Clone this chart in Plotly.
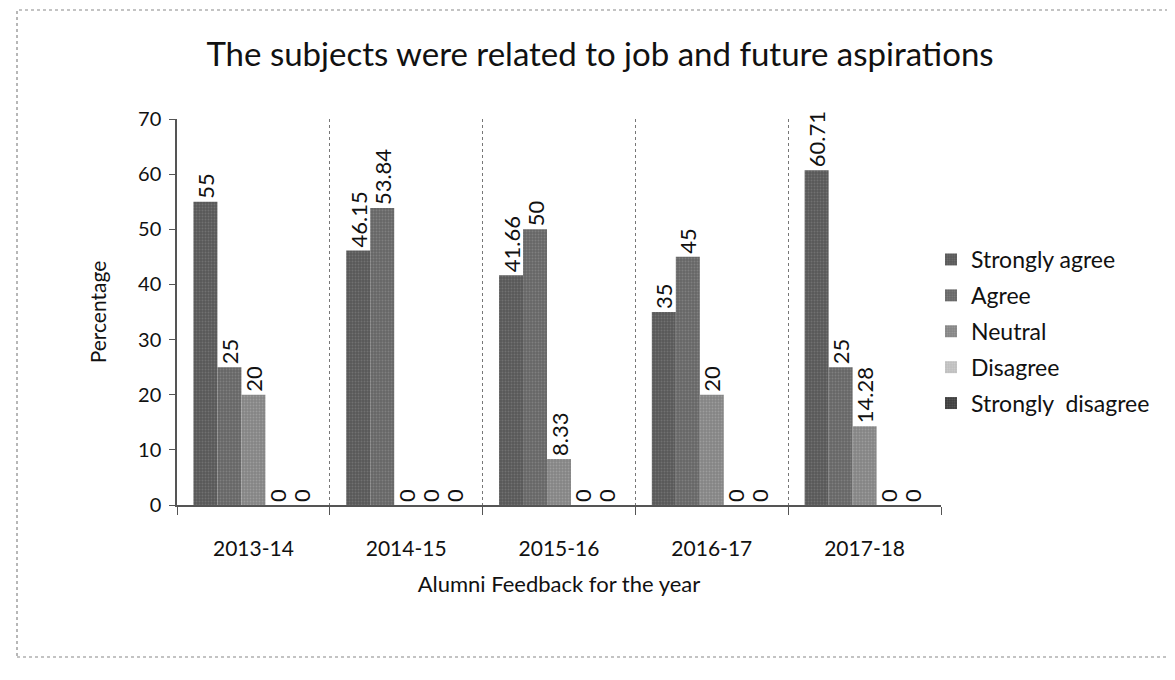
import plotly.graph_objects as go

years = ["2013-14", "2014-15", "2015-16", "2016-17", "2017-18"]
strongly_agree = [55, 46.15, 41.66, 35, 60.71]
agree = [25, 53.84, 50, 45, 25]
neutral = [20, 0, 8.33, 20, 14.28]
disagree = [0, 0, 0, 0, 0]
strongly_disagree = [0, 0, 0, 0, 0]

series = [
    ("Strongly agree", strongly_agree, "#575757", "#8c8c8c"),
    ("Agree", agree, "#656565", "#9a9a9a"),
    ("Neutral", neutral, "#838383", "#b5b5b5"),
    ("Disagree", disagree, "#bdbdbd", "#e0e0e0"),
    ("Strongly  disagree", strongly_disagree, "#3c3c3c", "#777777"),
]

FONT = "Lato, 'Open Sans', sans-serif"
OFF = 8  # browser body margin
W, H = 1175 - OFF, 680 - OFF

fig = go.Figure()
for i, (name, vals, bg, fg) in enumerate(series):
    fig.add_trace(go.Bar(
        x=years, y=vals, name=name, legendgroup=f"g{i}",
        marker=dict(color=bg, line=dict(width=0),
                    pattern=dict(shape=".", bgcolor=bg, fgcolor=fg, size=3, solidity=0.35)),
        texttemplate="%{y}", textposition="outside", textangle=-90,
        textfont=dict(size=22, color="#111111", family=FONT),
        constraintext="none", cliponaxis=False,
    ))

# plot area in reference (page) pixel coordinates
L, R, T, B = 177, 941, 119, 505
def px_x(p): return (p - L) / (R - L)
def px_y(p): return (B - p) / (B - T)

fig.update_layout(
    width=W, height=H,
    margin=dict(l=L - OFF, r=1175 - R, t=T - OFF, b=680 - B, autoexpand=False),
    paper_bgcolor="white", plot_bgcolor="white",
    barmode="group", bargap=0.215, bargroupgap=0,
    font=dict(family=FONT, size=20, color="#111111"),
    title=dict(text="The subjects were related to job and future aspirations",
               x=(600 - OFF) / W, xanchor="center", y=1 - (54 - OFF) / H, yanchor="middle",
               font=dict(size=33, family=FONT, color="#111111")),
    legend=dict(x=px_x(931), xanchor="left", y=px_y(238), yanchor="top",
                traceorder="grouped", tracegroupgap=3,
                font=dict(size=23, family=FONT, color="#111111"),
                bgcolor="rgba(0,0,0,0)"),
    xaxis=dict(
        title=dict(text="Alumni Feedback for the year", standoff=18,
                   font=dict(size=22, family=FONT)),
        tickson="boundaries", ticks="outside", ticklen=8, tickcolor="#555555",
        ticklabelstandoff=24,
        showgrid=True, gridcolor="#777777", griddash="dot", gridwidth=1,
        showline=True, linecolor="#555555", linewidth=1.5,
        tickfont=dict(size=21, family=FONT),
    ),
    yaxis=dict(
        title=dict(text="Percentage", standoff=26, font=dict(size=21, family=FONT)),
        range=[0, 70], dtick=10, ticks="outside", ticklen=6, tickcolor="#555555",
        ticklabelstandoff=4,
        showgrid=False, zeroline=False,
        showline=True, linecolor="#555555", linewidth=1.5,
        tickfont=dict(size=20, family=FONT),
    ),
)

fig.add_shape(type="rect", xref="paper", yref="paper",
              x0=px_x(17), x1=px_x(1190), y0=px_y(657), y1=px_y(10),
              line=dict(color="#888888", width=1.2, dash="dot"), layer="below")

fig.write_html("out.html")
